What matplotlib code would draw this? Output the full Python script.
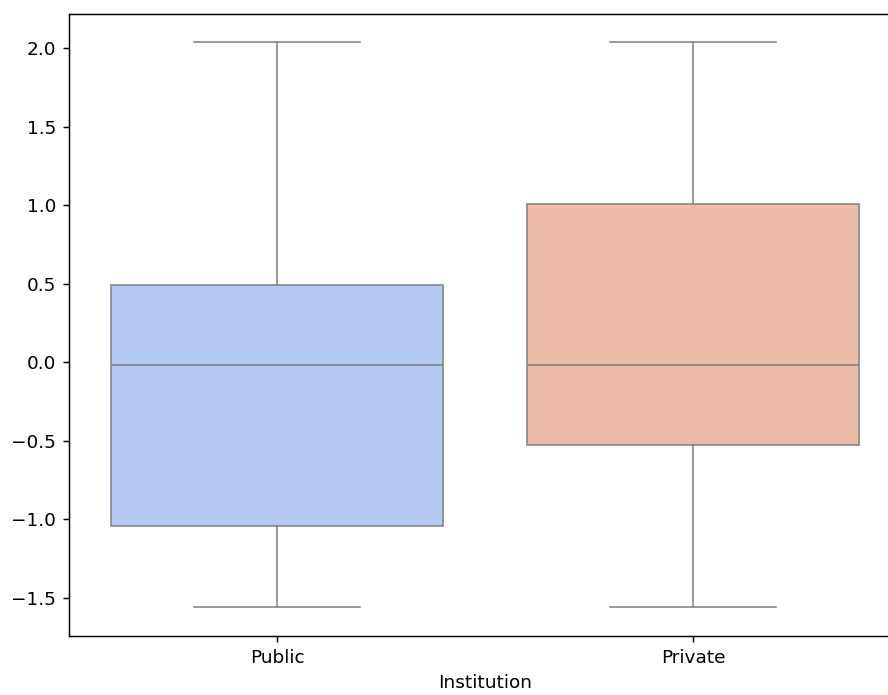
import matplotlib
matplotlib.use("Agg")
import matplotlib.pyplot as plt
import seaborn as sns

# values
institutions = ["Public", "Private"]
whisker_low = [-1.557, -1.557]
q1 = [-1.043, -0.527]
median = [-0.018, -0.018]
q3 = [0.491, 1.007]
whisker_high = [2.038, 2.038]

stats = []
for i, name in enumerate(institutions):
    stats.append({
        "label": name,
        "whislo": whisker_low[i],
        "q1": q1[i],
        "med": median[i],
        "q3": q3[i],
        "whishi": whisker_high[i],
        "fliers": [],
    })

colors = [sns.desaturate(c, 0.75) for c in sns.color_palette("coolwarm", 2)]
line_color = "#7f7f7f"

# the reference looks rendered about 1.35x larger than plain 100 dpi
s = 1.33
plt.rcParams.update({
    "font.size": 10 * s,
    "axes.linewidth": 0.8 * s,
    "xtick.major.size": 3.5 * s,
    "ytick.major.size": 3.5 * s,
    "xtick.major.width": 0.8 * s,
    "ytick.major.width": 0.8 * s,
    "xtick.major.pad": 3.5 * s,
    "ytick.major.pad": 3.5 * s,
    "axes.labelpad": 4.0 * s,
})

fig = plt.figure(figsize=(8.88, 6.95), dpi=100)
ax = fig.add_axes([69 / 888, 59 / 695, 832 / 888, 622 / 695])

lw = 1.1
bp = ax.bxp(stats, positions=range(len(institutions)), widths=0.8,
            capwidths=0.4, patch_artist=True, showfliers=False,
            boxprops=dict(edgecolor=line_color, linewidth=lw),
            whiskerprops=dict(color=line_color, linewidth=lw),
            capprops=dict(color=line_color, linewidth=lw),
            medianprops=dict(color=line_color, linewidth=lw))
for patch, c in zip(bp["boxes"], colors):
    patch.set_facecolor(c)

ax.set_xlim(-0.5, 1.5)
ax.set_ylim(-1.742, 2.216)
ax.set_xticks(range(len(institutions)))
ax.set_xticklabels(institutions)
ax.set_xlabel("Institution")

fig.savefig("out.png", dpi=100)
